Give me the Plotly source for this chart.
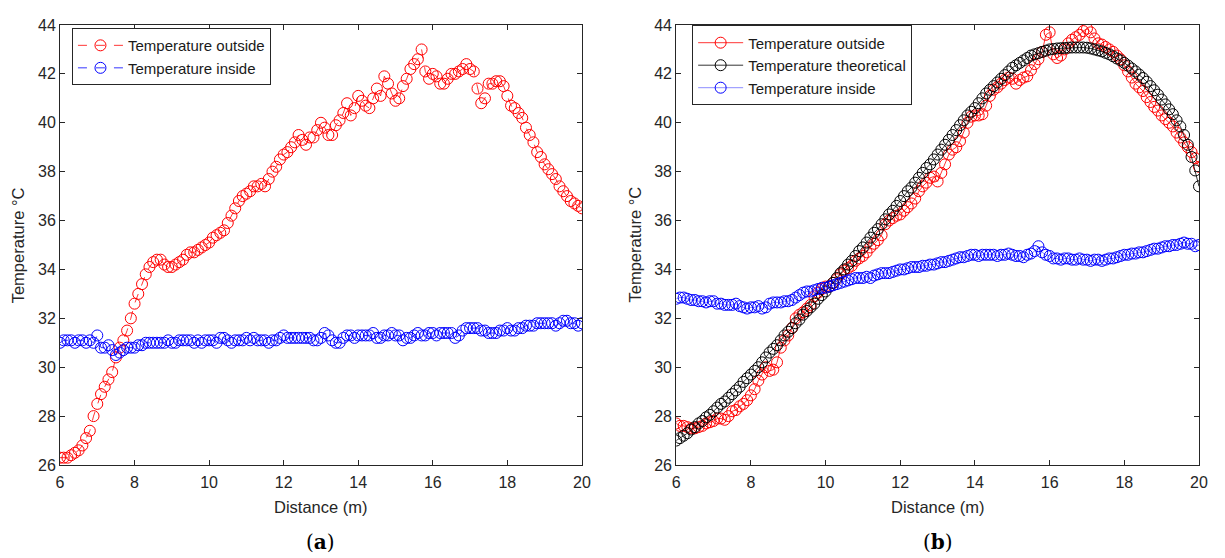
import plotly.graph_objects as go

# distance along the measurement line (m)
DIST = [6.0, 6.1, 6.2, 6.3, 6.4, 6.5, 6.6, 6.7, 6.8, 6.9,
        7.0, 7.1, 7.2, 7.3, 7.4, 7.5, 7.6, 7.7, 7.8, 7.9,
        8.0, 8.1, 8.2, 8.3, 8.4, 8.5, 8.6, 8.7, 8.8, 8.9,
        9.0, 9.1, 9.2, 9.3, 9.4, 9.5, 9.6, 9.7, 9.8, 9.9,
        10.0, 10.1, 10.2, 10.3, 10.4, 10.5, 10.6, 10.7, 10.8, 10.9,
        11.0, 11.1, 11.2, 11.3, 11.4, 11.5, 11.6, 11.7, 11.8, 11.9,
        12.0, 12.1, 12.2, 12.3, 12.4, 12.5, 12.6, 12.7, 12.8, 12.9,
        13.0, 13.1, 13.2, 13.3, 13.4, 13.5, 13.6, 13.7, 13.8, 13.9,
        14.0, 14.1, 14.2, 14.3, 14.4, 14.5, 14.6, 14.7, 14.8, 14.9,
        15.0, 15.1, 15.2, 15.3, 15.4, 15.5, 15.6, 15.7, 15.8, 15.9,
        16.0, 16.1, 16.2, 16.3, 16.4, 16.5, 16.6, 16.7, 16.8, 16.9,
        17.0, 17.1, 17.2, 17.3, 17.4, 17.5, 17.6, 17.7, 17.8, 17.9,
        18.0, 18.1, 18.2, 18.3, 18.4, 18.5, 18.6, 18.7, 18.8, 18.9,
        19.0, 19.1, 19.2, 19.3, 19.4, 19.5, 19.6, 19.7, 19.8, 19.9,
        20.0]

# panel (a)
outside_a = [26.3, 26.3, 26.3, 26.4, 26.5, 26.6, 26.8, 27.1, 27.4, 28.0,
             28.5, 28.9, 29.2, 29.5, 29.8, 30.4, 30.8, 31.1, 31.5, 32.0,
             32.6, 33.0, 33.4, 33.8, 34.1, 34.3, 34.4, 34.4, 34.2, 34.1,
             34.1, 34.2, 34.3, 34.4, 34.6, 34.7, 34.7, 34.8, 34.9, 35.0,
             35.1, 35.3, 35.4, 35.5, 35.6, 35.9, 36.2, 36.5, 36.8, 37.0,
             37.1, 37.2, 37.4, 37.4, 37.5, 37.4, 37.7, 38.0, 38.2, 38.5,
             38.7, 38.8, 39.0, 39.2, 39.5, 39.3, 39.1, 39.4, 39.4, 39.7,
             40.0, 39.8, 39.5, 39.5, 39.9, 40.1, 40.4, 40.8, 40.3, 40.6,
             41.1, 40.9, 40.7, 40.6, 41.0, 41.4, 41.1, 41.9, 41.6, 41.2,
             40.9, 41.0, 41.5, 41.8, 42.2, 42.4, 42.6, 43.0, 42.1, 41.8,
             42.0, 41.9, 41.6, 41.6, 41.8, 42.0, 42.0, 42.1, 42.2, 42.4,
             42.2, 42.1, 41.4, 40.8, 41.0, 41.6, 41.6, 41.7, 41.7, 41.5,
             41.1, 40.7, 40.6, 40.4, 40.2, 39.8, 39.5, 39.2, 38.8, 38.6,
             38.3, 38.1, 37.9, 37.7, 37.4, 37.2, 37.0, 36.8, 36.7, 36.6,
             36.5]

inside_a = [31.0, 31.1, 31.1, 31.1, 31.0, 31.1, 31.1, 31.0, 31.1, 31.0,
            31.3, 30.8, 30.8, 30.9, 30.7, 30.5, 30.6, 30.7, 30.8, 30.8,
            30.8, 30.9, 30.9, 31.0, 31.0, 31.0, 31.0, 31.0, 31.0, 31.1,
            31.0, 31.0, 31.1, 31.1, 31.1, 31.1, 31.0, 31.1, 31.0, 31.1,
            31.1, 31.1, 31.0, 31.2, 31.2, 31.1, 31.0, 31.1, 31.1, 31.1,
            31.2, 31.1, 31.2, 31.1, 31.1, 31.1, 31.0, 31.1, 31.1, 31.2,
            31.3, 31.2, 31.2, 31.2, 31.2, 31.2, 31.2, 31.2, 31.1, 31.1,
            31.2, 31.4, 31.3, 31.1, 31.0, 31.0, 31.2, 31.3, 31.3, 31.2,
            31.3, 31.3, 31.3, 31.3, 31.4, 31.2, 31.2, 31.3, 31.3, 31.4,
            31.3, 31.3, 31.1, 31.2, 31.2, 31.3, 31.4, 31.3, 31.3, 31.4,
            31.4, 31.3, 31.4, 31.4, 31.4, 31.4, 31.2, 31.3, 31.5, 31.6,
            31.6, 31.6, 31.6, 31.5, 31.5, 31.4, 31.4, 31.4, 31.5, 31.5,
            31.6, 31.5, 31.5, 31.6, 31.6, 31.7, 31.7, 31.7, 31.8, 31.8,
            31.8, 31.8, 31.8, 31.7, 31.8, 31.9, 31.9, 31.8, 31.8, 31.7,
            31.8]

# panel (b)
outside_b = [27.7, 27.6, 27.6, 27.55, 27.5, 27.5, 27.55, 27.6, 27.7, 27.75,
             27.8, 27.9, 27.9, 27.85, 28.0, 28.2, 28.25, 28.4, 28.5, 28.65,
             28.85, 29.1, 29.45, 29.7, 30.0, 29.85, 29.9, 30.2, 30.8, 31.1,
             31.3, 31.6, 32.0, 32.15, 32.25, 32.4, 32.55, 32.9, 33.05, 33.2,
             33.3, 33.3, 33.45, 33.6, 33.8, 33.95, 34.05, 34.15, 34.35, 34.45,
             34.55, 34.7, 34.9, 35.05, 35.2, 35.4, 35.85, 36.0, 36.1, 36.2,
             36.25, 36.4, 36.55, 36.7, 36.9, 37.2, 37.4, 37.55, 37.75, 37.8,
             37.6, 37.95, 38.3, 38.7, 38.9, 39.0, 39.25, 39.6, 40.0, 40.25,
             40.3, 40.3, 40.35, 40.7, 41.1, 41.35, 41.45, 41.6, 41.75, 41.85,
             41.8, 41.6, 41.75, 41.85, 41.9, 42.15, 42.4, 42.6, 42.9, 43.6,
             43.7, 42.8, 42.65, 42.75, 43.0, 43.25, 43.4, 43.5, 43.6, 43.75,
             43.85, 43.7, 43.45, 43.25, 43.2, 43.1, 43.0, 42.9, 42.75, 42.6,
             42.35, 42.1, 41.85, 41.6, 41.45, 41.3, 41.05, 40.85, 40.65, 40.5,
             40.3, 40.15, 40.0, 39.85, 39.6, 39.4, 39.2, 39.0, 38.8, 38.55,
             38.2]

theoretical_b = [27.0, 27.1, 27.2, 27.3, 27.45, 27.55, 27.7, 27.8, 27.95, 28.05,
                 28.2, 28.35, 28.5, 28.6, 28.75, 28.9, 29.05, 29.2, 29.4, 29.55,
                 29.7, 29.85, 30.0, 30.2, 30.4, 30.6, 30.75, 30.9, 31.1, 31.3,
                 31.45, 31.6, 31.8, 31.95, 32.15, 32.3, 32.45, 32.6, 32.8, 32.95,
                 33.1, 33.3, 33.45, 33.65, 33.85, 34.0, 34.2, 34.35, 34.55, 34.75,
                 34.9, 35.1, 35.3, 35.5, 35.65, 35.85, 36.05, 36.25, 36.4, 36.6,
                 36.8, 37.0, 37.2, 37.35, 37.55, 37.75, 37.95, 38.15, 38.3, 38.5,
                 38.7, 38.9, 39.1, 39.3, 39.5, 39.7, 39.9, 40.1, 40.3, 40.45,
                 40.6, 40.8, 41.0, 41.2, 41.35, 41.5, 41.65, 41.8, 41.95, 42.1,
                 42.25, 42.35, 42.45, 42.55, 42.65, 42.75, 42.8, 42.85, 42.9, 42.95,
                 43.0, 43.02, 43.04, 43.05, 43.06, 43.07, 43.08, 43.08, 43.08, 43.08,
                 43.07, 43.04, 43.0, 42.96, 42.92, 42.86, 42.8, 42.72, 42.63, 42.55,
                 42.45, 42.34, 42.22, 42.1, 41.97, 41.83, 41.68, 41.5, 41.33, 41.15,
                 40.95, 40.75, 40.55, 40.35, 40.1, 39.85, 39.5, 39.1, 38.6, 38.05,
                 37.4]

inside_b = [32.8, 32.85, 32.85, 32.8, 32.75, 32.75, 32.7, 32.7, 32.65, 32.7,
            32.7, 32.6, 32.6, 32.55, 32.55, 32.55, 32.6, 32.5, 32.45, 32.4,
            32.45, 32.45, 32.5, 32.4, 32.45, 32.6, 32.65, 32.65, 32.65, 32.7,
            32.7, 32.75, 32.85, 32.95, 33.05, 33.1, 33.1, 33.15, 33.2, 33.25,
            33.25, 33.3, 33.35, 33.4, 33.45, 33.5, 33.55, 33.6, 33.65, 33.65,
            33.65, 33.7, 33.65, 33.75, 33.8, 33.85, 33.85, 33.85, 33.9, 33.95,
            34.0, 34.0, 34.05, 34.1, 34.1, 34.1, 34.15, 34.15, 34.2, 34.2,
            34.25, 34.3, 34.3, 34.35, 34.4, 34.45, 34.5, 34.5, 34.55, 34.6,
            34.6, 34.55, 34.6, 34.6, 34.6, 34.6, 34.55, 34.6, 34.6, 34.65,
            34.6, 34.55, 34.55, 34.5, 34.6, 34.65, 34.75, 34.95, 34.7, 34.6,
            34.55, 34.45, 34.45, 34.4, 34.45, 34.45, 34.4, 34.4, 34.45, 34.4,
            34.4, 34.35, 34.4, 34.4, 34.35, 34.4, 34.45, 34.45, 34.5, 34.55,
            34.6, 34.6, 34.65, 34.65, 34.7, 34.7, 34.75, 34.8, 34.85, 34.85,
            34.9, 34.95, 34.95, 35.0, 35.0, 35.05, 35.1, 35.05, 35.05, 34.95,
            35.0]

X_TICKS = [6, 8, 10, 12, 14, 16, 18, 20]
Y_TICKS = [26, 28, 30, 32, 34, 36, 38, 40, 42, 44]

FONT = 'Liberation Sans, Arial, sans-serif'
AXC = '#262626'


def series(y, name, color, dash, xa, ya, legend, line_color=None):
    return go.Scatter(x=DIST, y=y, name=name, mode='lines+markers',
                      xaxis=xa, yaxis=ya, legend=legend,
                      line=dict(color=line_color or color, width=0.8, dash=dash),
                      marker=dict(symbol='circle-open', size=11, color=color,
                                  line=dict(width=1, color=color)))


data = [
    series(outside_a, 'Temperature outside', '#ff0000', 'dash', 'x', 'y', 'legend'),
    series(inside_a, 'Temperature inside', '#0000ff', 'dash', 'x', 'y', 'legend'),
    series(outside_b, 'Temperature outside', '#ff0000', 'solid', 'x2', 'y2', 'legend2'),
    series(theoretical_b, 'Temperature theoretical', '#000000', 'solid', 'x2', 'y2', 'legend2'),
    series(inside_b, 'Temperature inside', '#0000ff', 'solid', 'x2', 'y2', 'legend2',
           line_color='#6f6fff'),
]


def xaxis(domain, anchor):
    return dict(domain=domain, anchor=anchor, range=[6, 20], tickvals=X_TICKS,
                showline=True, mirror='ticks', linecolor=AXC, linewidth=1,
                ticks='inside', ticklen=5, tickcolor=AXC, showgrid=False,
                zeroline=False, ticklabelstandoff=3,
                tickfont=dict(size=16, color=AXC, family=FONT))


def yaxis(anchor):
    return dict(domain=[0, 1], anchor=anchor, range=[26, 44], tickvals=Y_TICKS,
                showline=True, mirror='ticks', linecolor=AXC, linewidth=1,
                ticks='inside', ticklen=5, tickcolor=AXC, showgrid=False,
                zeroline=False, tickfont=dict(size=16, color=AXC, family=FONT))


def label(text, x, y, size=16.5, angle=0, family=FONT, color=AXC):
    return dict(text=text, x=x, y=y, xref='paper', yref='paper',
                xanchor='center', yanchor='middle', textangle=angle,
                showarrow=False, font=dict(size=size, color=color, family=family))


legend_style = dict(bgcolor='white', bordercolor='#262626', borderwidth=1,
                    font=dict(size=15, color='#1a1a1a', family=FONT),
                    xanchor='left', yanchor='top', tracegroupgap=0,
                    itemsizing='trace', itemwidth=45)

A_MID, B_MID = 0.2291, 0.7705

# the page adds an 8 px body margin at the top-left, so the figure is shifted by it
layout = go.Layout(
    width=1209, height=550,
    margin=dict(l=52, r=9, t=10, b=93),
    paper_bgcolor='white', plot_bgcolor='white',
    xaxis=xaxis([0, 0.4582], 'y'),
    yaxis=yaxis('x'),
    xaxis2=xaxis([0.541, 1.0], 'y2'),
    yaxis2=yaxis('x2'),
    legend=dict(x=0.0105, y=0.993, **legend_style),
    legend2=dict(x=0.555, y=0.999, **legend_style),
    annotations=[
        label('Distance (m)', A_MID, -0.096),
        label('Distance (m)', B_MID, -0.096),
        label('Temperature °C', -0.0366, 0.5, angle=-90),
        label('Temperature °C', 0.541 - 0.0366, 0.5, angle=-90),
        label('(<b>a</b>)', A_MID, -0.1745, size=20,
              family='DejaVu Serif, serif', color='black'),
        label('(<b>b</b>)', B_MID, -0.1745, size=20,
              family='DejaVu Serif, serif', color='black'),
    ],
)

fig = go.Figure(data=data, layout=layout)
fig.write_html('out.html')
